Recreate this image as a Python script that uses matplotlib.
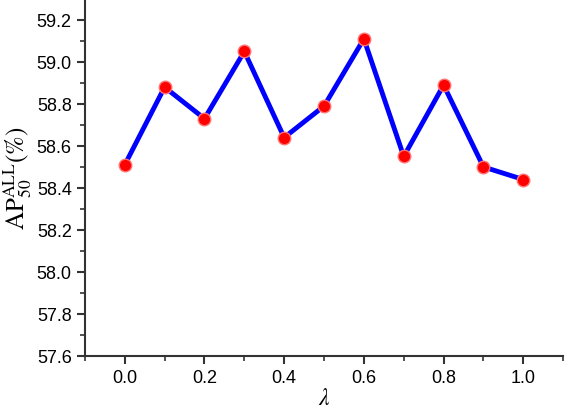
import matplotlib
matplotlib.use('Agg')
import matplotlib.pyplot as plt
from matplotlib.ticker import MultipleLocator, FormatStrFormatter

# lambda values and AP50 (ALL) scores
lam = [0.0, 0.1, 0.2, 0.3, 0.4, 0.5, 0.6, 0.7, 0.8, 0.9, 1.0]
ap50 = [58.51, 58.88, 58.73, 59.05, 58.64, 58.79, 59.11, 58.55, 58.89, 58.50, 58.44]

plt.rcParams['font.family'] = 'Liberation Sans'
plt.rcParams['mathtext.fontset'] = 'stix'

fig = plt.figure(figsize=(5.66, 4.14), dpi=100)
ax = fig.add_axes([0.150, 0.138, 0.845, 0.862])

ax.plot(lam, ap50, color='#0000ff', linewidth=3.5, zorder=2)
ax.plot(lam, ap50, linestyle='none', marker='o', markersize=9,
        markerfacecolor='#ff0000', markeredgecolor='#ff7070', markeredgewidth=1, zorder=3)

ax.set_xlim(-0.1, 1.1)
ax.set_ylim(57.6, 59.3)
ax.xaxis.set_major_locator(MultipleLocator(0.2))
ax.xaxis.set_minor_locator(MultipleLocator(0.1))
ax.yaxis.set_major_locator(MultipleLocator(0.2))
ax.yaxis.set_minor_locator(MultipleLocator(0.1))
ax.xaxis.set_major_formatter(FormatStrFormatter('%.1f'))
ax.yaxis.set_major_formatter(FormatStrFormatter('%.1f'))

for s in ['top', 'right']:
    ax.spines[s].set_visible(False)
for s in ['left', 'bottom']:
    ax.spines[s].set_linewidth(1.5)
    ax.spines[s].set_color('#333333')

ax.tick_params(which='major', direction='out', length=6, width=1.5, color='#333333', labelsize=13)
ax.tick_params(which='minor', direction='out', length=3.5, width=1.2, color='#333333')

ax.set_ylabel(r'$\mathrm{AP}_{50}^{\mathrm{ALL}}\mathrm{(\%)}$', fontsize=18, labelpad=2)
ax.set_xlabel(r'$\lambda$', fontsize=17, labelpad=1)

fig.savefig('out.png', dpi=100)
